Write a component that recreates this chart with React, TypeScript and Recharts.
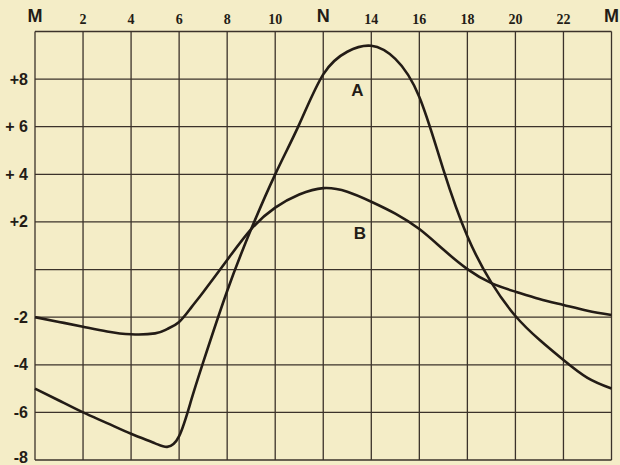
import React from "react";
import {
  LineChart,
  Line,
  XAxis,
  YAxis,
  CartesianGrid,
  ReferenceDot,
} from "recharts";

// hours from midnight (M) through noon (N) to midnight
const hours = [0, 1, 2, 3, 4, 5, 5.5, 6, 6.5, 7, 8, 9, 10, 11, 12, 13, 14, 15, 16, 17, 18, 19, 20, 21, 22, 23, 24];

// curve A
const curveA = [-5.0, -5.5, -6.0, -6.45, -6.9, -7.3, -7.45, -7.0, -5.5, -3.9, -0.9, 1.7, 4.0, 6.1, 8.2, 9.15, 9.4, 8.85, 7.25, 4.2, 1.4, -0.55, -1.95, -2.95, -3.8, -4.55, -5.0];

// curve B
const curveB = [-2.0, -2.2, -2.4, -2.6, -2.72, -2.68, -2.5, -2.2, -1.6, -0.95, 0.4, 1.7, 2.6, 3.15, 3.42, 3.27, 2.85, 2.35, 1.7, 0.84, 0.02, -0.57, -0.93, -1.24, -1.49, -1.73, -1.91];

const xTicks = [0, 2, 4, 6, 8, 10, 12, 14, 16, 18, 20, 22, 24];
const xTickLabels = ["M", "2", "4", "6", "8", "10", "N", "14", "16", "18", "20", "22", "M"];

const yTicks = [-8, -6, -4, -2, 0, 2, 4, 6, 8, 10];
const yTickLabels: Record<number, string> = {
  8: "+8",
  6: "+ 6",
  4: "+ 4",
  2: "+2",
  [-2]: "-2",
  [-4]: "-4",
  [-6]: "-6",
  [-8]: "-8",
};

// where the curve names are written
const labelA = { hour: 13.42, value: 7.55 };
const labelB = { hour: 13.53, value: 1.55 };

const data = hours.map((hour, i) => ({ hour, a: curveA[i], b: curveB[i] }));

const ink = "#231c16";

const XTick = (props: any) => {
  const { x, payload } = props;
  const idx = xTicks.indexOf(payload.value);
  const label = xTickLabels[idx];
  const isLetter = label === "M" || label === "N";
  return (
    <text
      x={x}
      y={isLetter ? 22 : 24}
      textAnchor="middle"
      fill={ink}
      fontFamily={isLetter ? "Liberation Sans, Arial, sans-serif" : "Liberation Serif, serif"}
      fontWeight="bold"
      fontSize={isLetter ? 18 : 14}
    >
      {label}
    </text>
  );
};

const YTick = (props: any) => {
  const { y, payload } = props;
  const label = yTickLabels[payload.value];
  if (!label) return <g />;
  return (
    <text
      x={28}
      y={y}
      dy={payload.value === -8 ? 3 : 5.5}
      textAnchor="end"
      fill={ink}
      fontFamily="Liberation Sans, Arial, sans-serif"
      fontWeight="bold"
      fontSize={16}
    >
      {label}
    </text>
  );
};

const curveName = (name: string) => (props: any) => (
  <text
    x={props.cx}
    y={props.cy}
    dy={6}
    textAnchor="middle"
    fill={ink}
    fontFamily="Liberation Sans, Arial, sans-serif"
    fontWeight="bold"
    fontSize={17}
  >
    {name}
  </text>
);

export default function App() {
  return (
    <div
      style={{
        position: "absolute",
        left: 0,
        top: 0,
        width: 620,
        height: 465,
        background: "#f4edc7",
      }}
    >
      <LineChart
        width={620}
        height={465}
        data={data}
        margin={{ top: 0.5, right: 8.5, bottom: 5, left: 0 }}
      >
        <CartesianGrid stroke="#3b322a" strokeWidth={1.3} />
        <XAxis
          dataKey="hour"
          type="number"
          domain={[0, 24]}
          ticks={xTicks}
          orientation="top"
          height={31}
          axisLine={false}
          tickLine={false}
          tick={XTick}
          interval={0}
        />
        <YAxis
          type="number"
          domain={[-8, 10]}
          ticks={yTicks}
          width={35}
          axisLine={false}
          tickLine={false}
          tick={YTick}
          interval={0}
        />
        <Line
          dataKey="a"
          type="natural"
          stroke={ink}
          strokeWidth={2.6}
          dot={false}
          isAnimationActive={false}
        />
        <Line
          dataKey="b"
          type="natural"
          stroke={ink}
          strokeWidth={2.6}
          dot={false}
          isAnimationActive={false}
        />
        <ReferenceDot x={labelA.hour} y={labelA.value} r={0} shape={curveName("A")} />
        <ReferenceDot x={labelB.hour} y={labelB.value} r={0} shape={curveName("B")} />
      </LineChart>
    </div>
  );
}
